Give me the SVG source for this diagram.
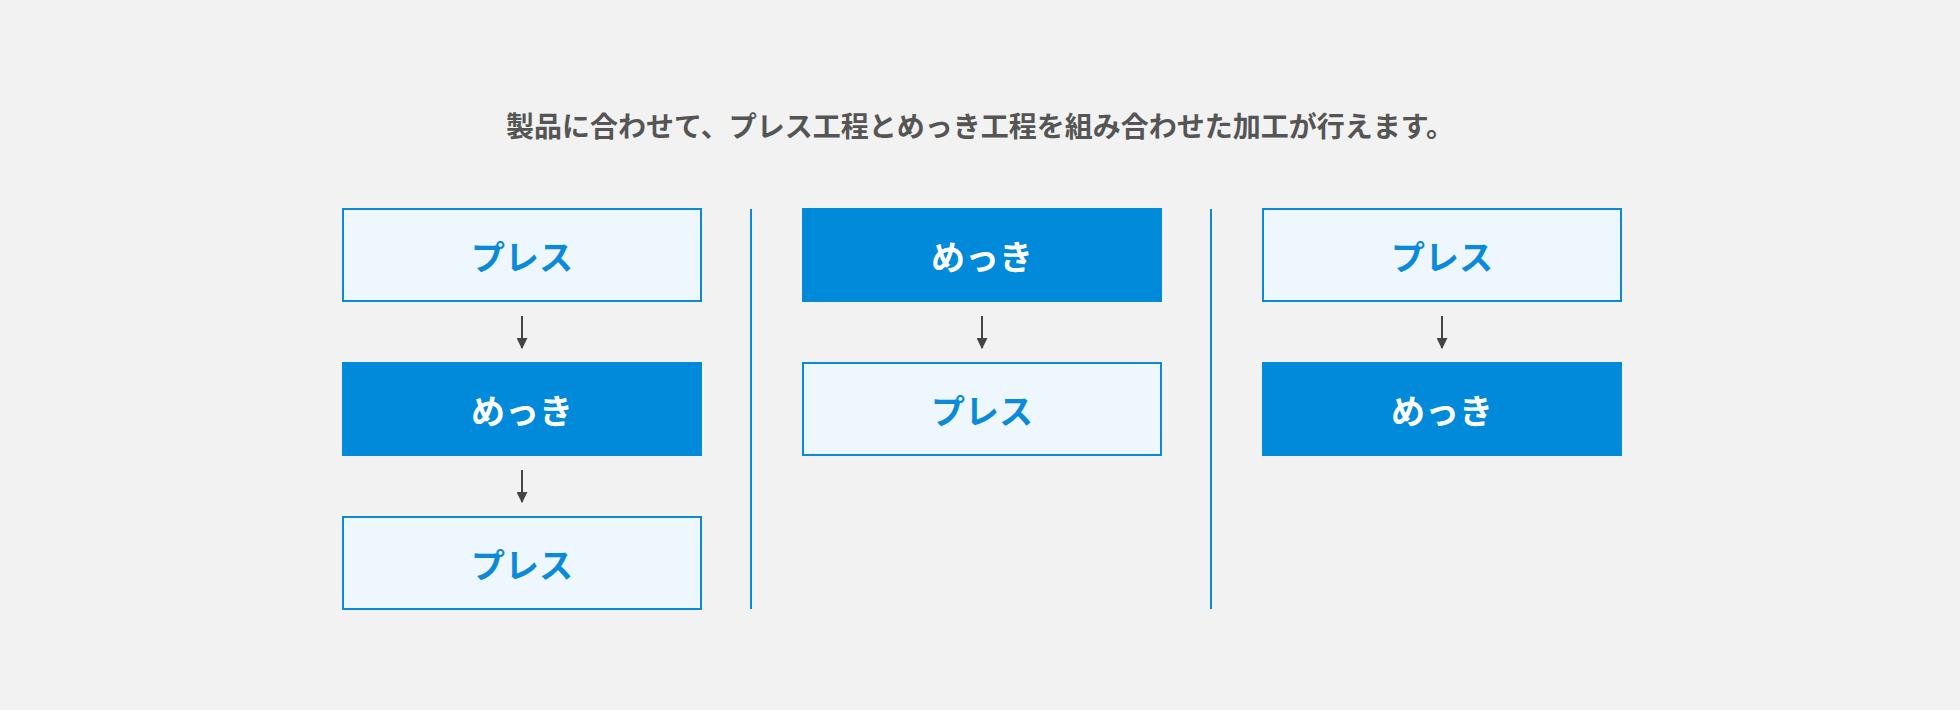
<svg xmlns="http://www.w3.org/2000/svg" width="1960" height="710" viewBox="0 0 1960 710">
<style>
.lt{fill:#eef7fd;stroke:#0a8ad8;stroke-width:2}
.dk{fill:#008ad9}
.t{font-family:"Noto Sans CJK JP",sans-serif;font-weight:bold;font-size:34px;text-anchor:middle;dominant-baseline:central}
.tl{fill:#0a8ad8}.td{fill:#fff}
.div{stroke:#0a8ad8;stroke-width:2}
.ar{stroke:#444;stroke-width:2;fill:none}
</style>
<defs><marker id="ah" viewBox="0 0 10 10" refX="10" refY="5" markerWidth="5" markerHeight="5" orient="auto" markerUnits="userSpaceOnUse"><path d="M0,0L10,5L0,10z" fill="#444"/></marker>
<marker id="a" viewBox="0 0 10 10" refX="9" refY="5" markerWidth="11" markerHeight="11" markerUnits="userSpaceOnUse" orient="auto"><path d="M0,0L10,5L0,10z" fill="#444"/></marker></defs>
<rect width="1960" height="710" fill="#f2f2f2"/>
<text x="980" y="125" font-family="Noto Sans CJK JP,sans-serif" font-weight="bold" font-size="28" fill="#555" text-anchor="middle" dominant-baseline="central">製品に合わせて、プレス工程とめっき工程を組み合わせた加工が行えます。</text>
<g id="dividers"><line class="div" x1="751" y1="209" x2="751" y2="609"/><line class="div" x1="1211" y1="209" x2="1211" y2="609"/></g>
<g id="n1"><rect class="lt" x="343" y="209" width="358" height="92"/><text class="t tl" x="522" y="255">プレス</text></g>
<g id="n2"><rect class="dk" x="342" y="362" width="360" height="94"/><text class="t td" x="522" y="409">めっき</text></g>
<g id="n3"><rect class="lt" x="343" y="517" width="358" height="92"/><text class="t tl" x="522" y="563">プレス</text></g>
<g id="n4"><rect class="dk" x="802" y="208" width="360" height="94"/><text class="t td" x="982" y="255">めっき</text></g>
<g id="n5"><rect class="lt" x="803" y="363" width="358" height="92"/><text class="t tl" x="982" y="409">プレス</text></g>
<g id="n6"><rect class="lt" x="1263" y="209" width="358" height="92"/><text class="t tl" x="1442" y="255">プレス</text></g>
<g id="n7"><rect class="dk" x="1262" y="362" width="360" height="94"/><text class="t td" x="1442" y="409">めっき</text></g>
<g id="connectors">
<line class="ar" x1="522" y1="316" x2="522" y2="348" marker-end="url(#a)"/>
<line class="ar" x1="522" y1="470" x2="522" y2="502" marker-end="url(#a)"/>
<line class="ar" x1="982" y1="316" x2="982" y2="348" marker-end="url(#a)"/>
<line class="ar" x1="1442" y1="316" x2="1442" y2="348" marker-end="url(#a)"/>
</g>
</svg>
